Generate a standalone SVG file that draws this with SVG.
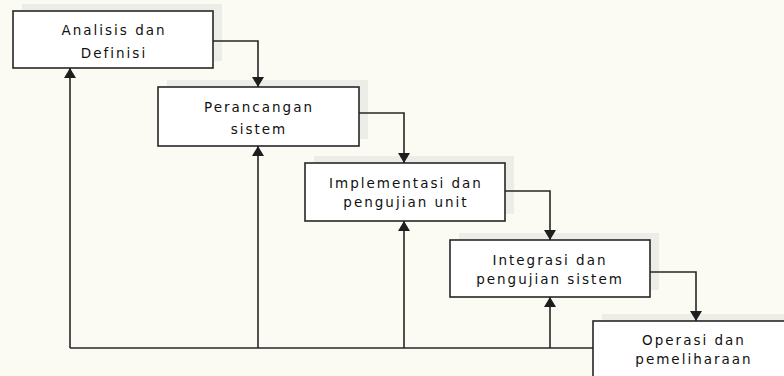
<svg xmlns="http://www.w3.org/2000/svg" width="784" height="376" viewBox="0 0 784 376">
  <defs>
    <style>
      .shadow { fill: #ededE8; }
      .box { fill: #ffffff; stroke: #262626; stroke-width: 1.6; }
      .lbl { font-family: "DejaVu Sans", Verdana, sans-serif; font-size: 13.5px; letter-spacing: 2px; fill: #111111; text-anchor: middle; }
      .wire { fill: none; stroke: #262626; stroke-width: 1.6; }
    </style>
    <marker id="headDown" viewBox="0 0 12 10" refX="6" refY="10" markerWidth="12" markerHeight="10" markerUnits="userSpaceOnUse" orient="0">
      <path d="M0,0 L12,0 L6,10 Z" fill="#1e1e1e"/>
    </marker>
    <marker id="headUp" viewBox="0 0 12 10" refX="6" refY="0" markerWidth="12" markerHeight="10" markerUnits="userSpaceOnUse" orient="0">
      <path d="M6,0 L12,10 L0,10 Z" fill="#1e1e1e"/>
    </marker>
  </defs>

  <rect width="784" height="376" fill="#fbfbf4"/>

  <!-- stage boxes -->
  <g id="analisis">
    <rect class="shadow" x="22" y="4" width="200" height="57"/>
    <rect class="box" x="13" y="11" width="200" height="57"/>
    <text class="lbl" x="114" y="35">Analisis dan</text>
    <text class="lbl" x="114" y="58">Definisi</text>
  </g>

  <g id="perancangan">
    <rect class="shadow" x="167" y="80" width="201" height="59"/>
    <rect class="box" x="158" y="87" width="201" height="59"/>
    <text class="lbl" x="259" y="112">Perancangan</text>
    <text class="lbl" x="259" y="134">sistem</text>
  </g>

  <g id="implementasi">
    <rect class="shadow" x="314" y="156" width="200" height="58"/>
    <rect class="box" x="305" y="163" width="200" height="58"/>
    <text class="lbl" x="406" y="188">Implementasi dan</text>
    <text class="lbl" x="406" y="207">pengujian unit</text>
  </g>

  <g id="integrasi">
    <rect class="shadow" x="459" y="233" width="200" height="57"/>
    <rect class="box" x="450" y="240" width="200" height="57"/>
    <text class="lbl" x="550" y="265">Integrasi dan</text>
    <text class="lbl" x="550" y="284">pengujian sistem</text>
  </g>

  <g id="operasi">
    <rect class="shadow" x="602" y="314" width="200" height="70"/>
    <rect class="box" x="593" y="321" width="200" height="70"/>
    <text class="lbl" x="694" y="345">Operasi dan</text>
    <text class="lbl" x="694" y="364">pemeliharaan</text>
  </g>

  <!-- flow and feedback connectors -->
  <g id="connectors">
    <path class="wire" d="M213,41 H258 V87" marker-end="url(#headDown)"/>
    <path class="wire" d="M359,113 H404 V163" marker-end="url(#headDown)"/>
    <path class="wire" d="M505,191 H550 V240" marker-end="url(#headDown)"/>
    <path class="wire" d="M650,272 H696 V321" marker-end="url(#headDown)"/>

    <path class="wire" d="M593,348 H70"/>
    <path class="wire" d="M70,348 V68" marker-end="url(#headUp)"/>
    <path class="wire" d="M258,348 V146" marker-end="url(#headUp)"/>
    <path class="wire" d="M404,348 V221" marker-end="url(#headUp)"/>
    <path class="wire" d="M550,348 V297" marker-end="url(#headUp)"/>
  </g>
</svg>
